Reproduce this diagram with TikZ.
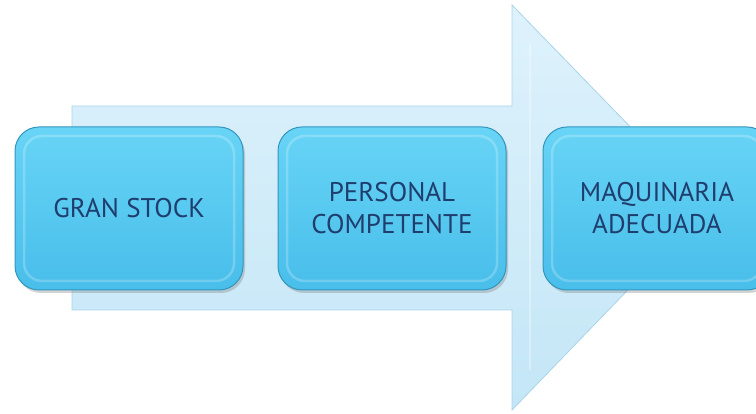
\documentclass[tikz,border=0pt]{standalone}
\usepackage{fontspec}
\setmainfont{PT Sans}
\usetikzlibrary{shadows}
\definecolor{boxtop}{RGB}{104,212,246}
\definecolor{boxbot}{RGB}{72,190,234}
\definecolor{boxline}{RGB}{52,150,190}
\definecolor{arrtop}{RGB}{222,242,252}
\definecolor{arrbot}{RGB}{196,230,246}
\definecolor{arrline}{RGB}{170,212,232}
\definecolor{txt}{RGB}{31,62,110}
\tikzset{
  stepbox/.style={rectangle, rounded corners=24pt, minimum width=228pt, minimum height=163pt,
    draw=boxline, line width=1pt, top color=boxtop, bottom color=boxbot,
    drop shadow={shadow xshift=2pt, shadow yshift=-3pt, opacity=.35},
    text=txt, align=center, font=\fontsize{27}{32}\selectfont},
  gloss/.style={rectangle, rounded corners=18pt, minimum width=210pt, minimum height=145pt,
    draw=white, draw opacity=.22, line width=2.5pt}
}
\begin{document}
\begin{tikzpicture}[x=1pt,y=1pt]
\useasboundingbox (0,0) rectangle (756,414);
% big arrow behind
\shade[top color=arrtop, bottom color=arrbot, draw=arrline, line width=.8pt]
  (72,104) -- (72,308) -- (512,308) -- (512,409) -- (708,207) -- (512,4) -- (512,104) -- cycle;
\draw[white, opacity=.3, line width=1.5pt] (530,370) -- (530,44);
% steps
\node[stepbox] (gran) at (129,205.5){GRAN STOCK};
\node[gloss] at (gran){};
\node[stepbox] (pers) at (392,205.5){PERSONAL\\COMPETENTE};
\node[gloss] at (pers){};
\node[stepbox] (maq) at (657,205.5){MAQUINARIA\\ADECUADA};
\node[gloss] at (maq){};
\end{tikzpicture}
\end{document}
